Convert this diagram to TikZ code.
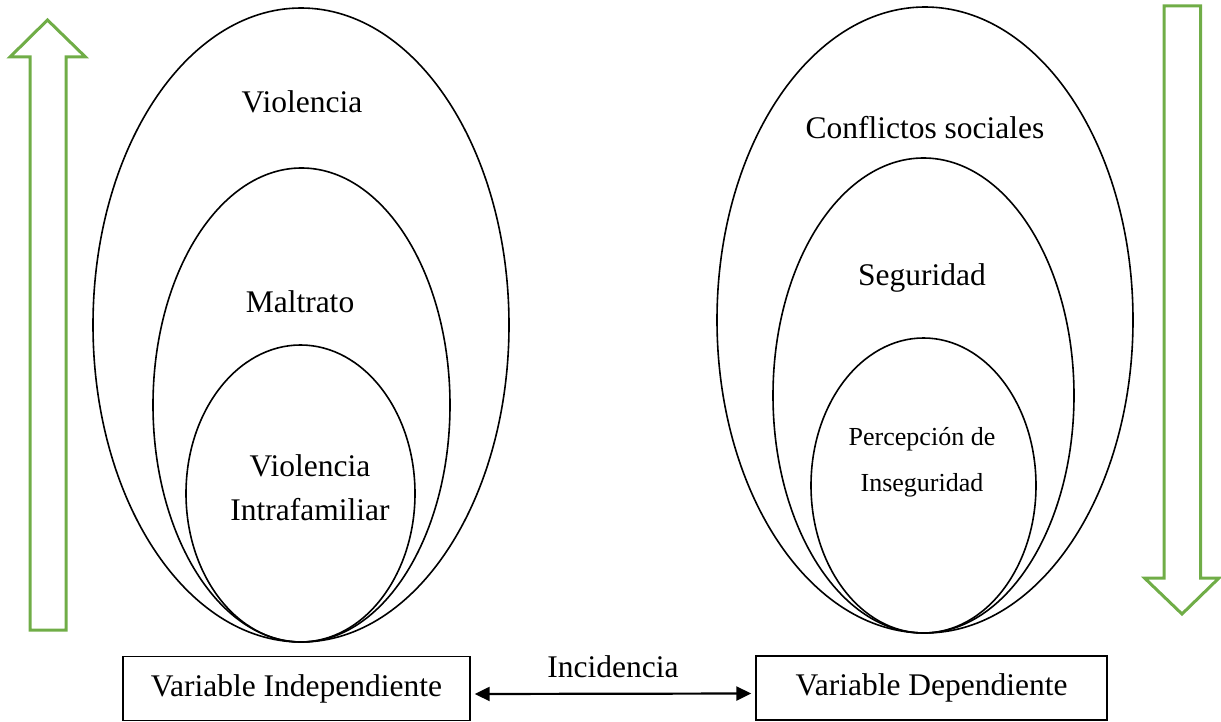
\documentclass[tikz,border=0pt]{standalone}
\usepackage{fontspec}
\setmainfont{Liberation Serif}
\usetikzlibrary{shapes.geometric}
\usetikzlibrary{arrows.meta}
\usetikzlibrary{positioning}

\definecolor{arrowgreen}{RGB}{112,173,71}

\tikzset{
  oval/.style={ellipse, draw=black, line width=1.6pt, inner sep=0pt},
  ovaltext/.style={inner sep=2pt, font=\fontsize{31.5}{44}\selectfont, align=center},
  smalltext/.style={inner sep=2pt, font=\fontsize{26}{46}\selectfont, align=center},
  varbox/.style={rectangle, draw=black, line width=1.4pt, minimum height=64pt, inner sep=2pt, font=\fontsize{31.5}{38}\selectfont},
  blockarrow/.style={draw=arrowgreen, line width=3pt, line join=miter},
}

\begin{document}
\begin{tikzpicture}[x=1pt, y=-1pt]
    \useasboundingbox (0,0) rectangle (1221,722);

    % independent side
    \node[oval, minimum width=416pt, minimum height=634pt] (violencia) at (301,325) {};
    \node[oval, minimum width=297pt, minimum height=474pt] (maltrato) at (301.5,405) {};
    \node[oval, minimum width=229pt, minimum height=297pt] (intra) at (300.5,493.5) {};
    \node[ovaltext] (lviolencia) at (302,102) {Violencia};
    \node[ovaltext] (lmaltrato) at (300,302) {Maltrato};
    \node[ovaltext] (lintra) at (310,488) {Violencia\\Intrafamiliar};

    % dependent side
    \node[oval, minimum width=416pt, minimum height=626pt] (conflictos) at (925,320) {};
    \node[oval, minimum width=301pt, minimum height=475pt] (seguridad) at (923.5,395.5) {};
    \node[oval, minimum width=225pt, minimum height=295pt] (percepcion) at (923.5,485.5) {};
    \node[ovaltext] (lconflictos) at (925,128) {Conflictos sociales};
    \node[ovaltext] (lseguridad) at (922,278) {Seguridad};
    \node[smalltext] (lpercepcion) at (922,462) {Percepción de\\Inseguridad};

    \node[varbox, minimum width=347pt] (varind) at (296.5,688.5) {Variable Independiente};
    \node[varbox, minimum width=351pt] (vardep) at (931.5,688) {Variable Dependiente};

    \draw[{Triangle[length=15pt,width=14pt]}-{Triangle[length=15pt,width=14pt]}, line width=2.2pt, shorten <=4pt, shorten >=4pt]
        ([yshift=-5.5pt]varind.east) to node[ovaltext, above=13pt] (incidencia) {Incidencia} ([yshift=-5.5pt]vardep.west);

    % green block arrows
    \draw[blockarrow] (30,630) -- (30,57) -- (10,57) -- (47.5,20) -- (85.5,57) -- (66,57) -- (66,630) -- cycle;
    \draw[blockarrow] (1164,6) -- (1164,578) -- (1144.5,578) -- (1182,614) -- (1219,578) -- (1200.5,578) -- (1200.5,6) -- cycle;
\end{tikzpicture}
\end{document}
